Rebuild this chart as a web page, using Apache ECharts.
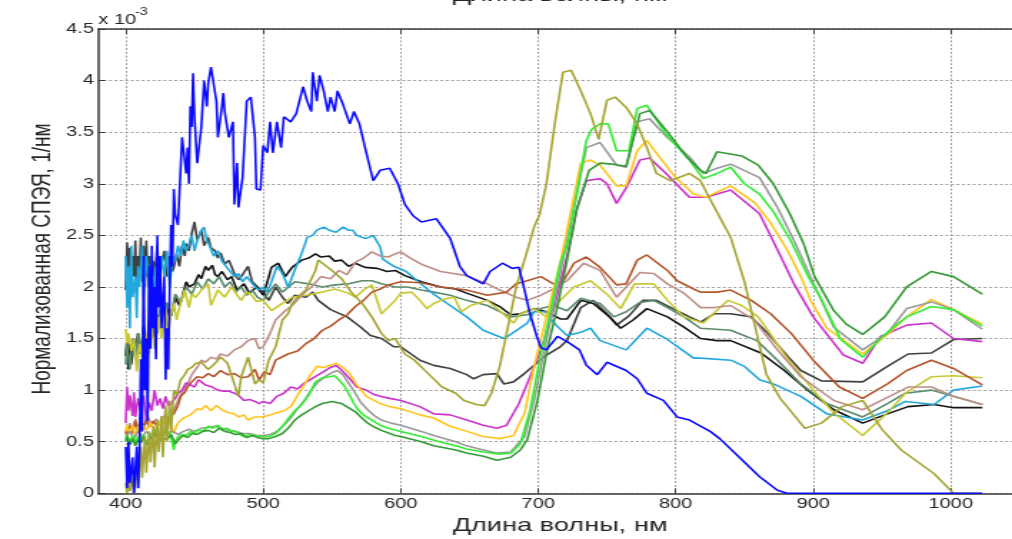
<!DOCTYPE html>
<html><head><meta charset="utf-8">
<script src="https://cdn.jsdelivr.net/npm/echarts@6/dist/echarts.min.js"></script>
<style>
html,body{margin:0;padding:0;background:#fff;overflow:hidden;width:1012px;height:539px}
#wrap{width:1012px;height:539px;overflow:hidden;position:relative;background:#fff}
#chart{width:708px;height:539px;transform:scaleX(1.4294);transform-origin:0 0;position:absolute;left:0;top:0}
</style></head><body><div id="wrap"><div id="chart"></div></div>
<script>
// ---- data (values in units of 1e-3 1/nm) ----
const xTicks = [400, 500, 600, 700, 800, 900, 1000];
const xTitle = 'Длина волны, нм';
const yTitle = 'Нормализованная СПЭЯ, 1/нм';

const blue = [[400,0.45],[401,0.05],[402,0.5],[403,0.1],[405,0.35],[406,0],[408,0.45],[409,0.05],[410,0.4],[411,1.3],[412,0.6],[413,2.3],[414,1.0],[415,1.5],[416,0.7],[417,2.2],[418,1.4],[419,2.4],[420,1.6],[421,2.0],[422,1.3],[423,2.5],[424,1.8],[425,2.3],[426,1.6],[428,2.1],[429,1.1],[430,1.6],[431,1.2],[432,2.0],[433,2.6],[434,2.2],[435,2.95],[436,2.7],[438,2.6],[441,3.45],[444,3.1],[445,3.35],[446,3.0],[447,3.75],[448,3.55],[449,4.07],[450,3.65],[452,3.2],[455,3.55],[457,4.0],[459,3.75],[460,3.97],[462,4.13],[466,3.8],[467,3.45],[470,3.75],[471,3.88],[472,3.7],[475,3.45],[478,3.6],[479,2.8],[481,3.2],[482,2.77],[485,3.06],[488,3.8],[491,3.84],[494,3.45],[495,2.95],[498,2.94],[500,3.37],[503,3.3],[505,3.6],[507,3.3],[510,3.6],[513,3.35],[515,3.65],[520,3.6],[524,3.68],[529,3.94],[532,3.8],[535,3.7],[536,4.08],[539,3.8],[541,4.05],[544,3.9],[547,3.7],[549,3.84],[552,3.7],[554,3.9],[558,3.77],[563,3.58],[566,3.7],[570,3.58],[575,3.3],[580,3.03],[585,3.13],[592,3.15],[598,3.0],[603,2.8],[609,2.69],[615,2.63],[626,2.66],[636,2.47],[643,2.2],[648,2.11],[660,2.03],[665,2.15],[674,2.23],[681,2.18],[686,2.19],[689,2.03],[694,1.74],[699,1.52],[702,1.41],[706,1.39],[714,1.52],[721,1.47],[730,1.39],[735,1.24],[743,1.15],[750,1.27],[764,1.19],[772,1.11],[779,0.97],[791,0.9],[801,0.74],[810,0.71],[825,0.6],[832,0.53],[847,0.34],[861,0.16],[874,0.03],[881,0],[1023,0]];

const cyan = [[400,2.3],[401,1.8],[402,2.2],[403,1.6],[404,2.4],[405,1.9],[407,2.1],[408,1.7],[409,2.2],[410,2.0],[412,2.4],[413,1.9],[415,2.3],[417,2.0],[419,2.3],[420,1.8],[422,2.2],[424,2.0],[426,2.3],[428,2.1],[430,2.35],[432,2.0],[434,2.3],[436,2.25],[438,2.4],[440,2.3],[442,2.45],[444,2.35],[446,2.42],[448,2.5],[450,2.35],[452,2.45],[455,2.55],[457,2.58],[459,2.45],[461,2.4],[464,2.3],[467,2.35],[470,2.25],[473,2.2],[476,2.15],[479,2.1],[482,2.13],[485,2.05],[488,2.1],[491,2.05],[494,2.0],[497,1.97],[500,2.0],[503,1.95],[506,2.05],[510,2.2],[513,2.15],[515,2.1],[518,2.0],[520,2.06],[524,2.2],[527,2.29],[530,2.4],[532,2.48],[536,2.5],[539,2.55],[544,2.58],[548,2.55],[553,2.53],[558,2.58],[562,2.55],[565,2.55],[568,2.5],[572,2.48],[575,2.47],[580,2.5],[585,2.39],[587,2.27],[595,2.2],[604,2.15],[612,2.06],[624,1.93],[636,1.82],[648,1.71],[660,1.58],[675,1.5],[680,1.54],[692,1.65],[697,1.76],[705,1.76],[713,1.63],[721,1.53],[731,1.56],[738,1.6],[745,1.48],[764,1.39],[779,1.6],[793,1.5],[813,1.31],[818,1.31],[840,1.29],[850,1.23],[861,1.1],[871,1.06],[891,0.94],[910,0.77],[936,0.71],[954,0.8],[967,0.89],[988,0.86],[1002,1.0],[1023,1.04]];

const darkGray = [[400,1.97],[401,2.43],[402,2.1],[403,2.38],[404,1.97],[405,2.3],[406,2.1],[407,2.45],[408,1.95],[409,2.3],[410,2.15],[411,2.48],[412,2.05],[413,2.4],[414,2.0],[415,2.45],[416,2.1],[417,2.3],[418,1.97],[420,2.25],[421,2.1],[423,2.4],[424,2.05],[426,2.22],[428,2.35],[430,2.1],[432,2.3],[434,2.15],[435,2.19],[437,2.32],[439,2.2],[441,2.4],[443,2.3],[444,2.42],[446,2.35],[448,2.52],[450,2.63],[452,2.45],[455,2.55],[457,2.4],[460,2.48],[462,2.38],[465,2.35],[467,2.28],[469,2.33],[472,2.22],[475,2.26],[479,2.13],[482,2.07],[484,2.1],[487,2.16],[489,2.2],[492,2.05],[496,2.0],[500,1.95],[504,1.87],[509,2.0],[514,1.9],[518,1.84],[523,1.92],[531,1.9],[536,1.95],[540,1.87],[549,1.78],[561,1.71],[571,1.61],[578,1.53],[586,1.5],[595,1.42],[600,1.42],[614,1.29],[624,1.24],[636,1.21],[648,1.15],[653,1.11],[660,1.15],[670,1.16],[675,1.06],[682,1.08],[690,1.16],[697,1.24],[706,1.34],[716,1.42],[721,1.48],[731,1.8],[740,1.87],[750,1.74],[757,1.63],[766,1.72],[776,1.87],[786,1.87],[798,1.79],[810,1.71],[818,1.66],[828,1.74],[840,1.74],[855,1.71],[867,1.55],[882,1.32],[891,1.19],[906,1.09],[936,1.08],[954,1.23],[969,1.35],[986,1.36],[1002,1.49],[1023,1.5]];

const black = [[400,1.33],[401,1.5],[402,1.2],[403,1.45],[404,1.25],[406,1.5],[407,1.39],[409,1.55],[410,1.35],[412,1.48],[413,1.62],[415,1.45],[417,1.55],[418,1.7],[420,1.5],[422,1.75],[424,1.65],[426,1.8],[428,1.6],[431,1.81],[433,1.72],[436,1.9],[439,1.82],[441,1.9],[444,2.05],[446,2.0],[450,2.03],[453,2.12],[455,2.08],[458,2.2],[460,2.16],[463,2.21],[465,2.12],[467,2.1],[470,2.15],[474,2.07],[477,2.1],[481,1.97],[486,2.03],[490,1.94],[495,2.0],[500,1.92],[503,2.05],[506,2.19],[511,2.23],[516,2.1],[521,2.19],[528,2.26],[533,2.28],[538,2.32],[542,2.29],[548,2.3],[552,2.25],[557,2.26],[562,2.2],[567,2.23],[574,2.19],[583,2.18],[590,2.15],[596,2.16],[603,2.11],[615,2.05],[629,2.0],[640,1.98],[648,1.94],[663,1.87],[672,1.81],[680,1.73],[687,1.74],[697,1.79],[706,1.76],[716,1.69],[721,1.69],[731,1.87],[740,1.84],[752,1.71],[760,1.6],[769,1.68],[779,1.79],[794,1.71],[806,1.61],[818,1.5],[830,1.48],[840,1.48],[862,1.36],[879,1.19],[896,1.0],[915,0.81],[936,0.68],[954,0.77],[969,0.84],[988,0.86],[1002,0.83],[1023,0.83]];

const grayGreen = [[400,1.25],[401,1.45],[403,1.2],[405,1.5],[407,1.3],[409,1.55],[411,1.35],[413,1.6],[415,1.4],[417,1.68],[419,1.5],[421,1.72],[423,1.55],[425,1.8],[427,1.65],[430,1.85],[433,1.72],[436,1.93],[440,1.85],[444,2.0],[448,1.93],[452,2.05],[456,1.98],[460,2.08],[464,2.03],[468,2.1],[472,2.0],[476,2.05],[480,1.95],[484,2.0],[488,1.92],[492,1.97],[496,1.9],[500,1.87],[504,1.95],[509,2.03],[514,1.95],[523,2.05],[533,2.03],[543,2.0],[552,2.02],[562,2.03],[572,2.06],[579,2.06],[586,2.03],[596,2.0],[605,2.0],[615,1.97],[624,1.95],[636,1.92],[648,1.87],[663,1.82],[672,1.76],[680,1.71],[692,1.73],[702,1.79],[711,1.82],[721,1.77],[731,1.89],[745,1.84],[755,1.71],[764,1.76],[774,1.85],[784,1.87],[794,1.8],[806,1.71],[818,1.6],[840,1.58],[859,1.48],[874,1.29],[891,1.06],[910,0.87],[936,0.74],[954,0.87],[967,0.97],[986,1.0],[1002,0.94],[1023,0.86]];

const olive = [[400,0.1],[401,0],[402,0.3],[403,0.02],[405,0.15],[406,0],[408,0.3],[409,0.05],[411,0.45],[412,0.15],[414,0.55],[415,0.2],[417,0.6],[418,0.3],[420,0.65],[421,0.25],[423,0.7],[424,0.4],[426,0.75],[427,0.35],[429,0.85],[430,0.5],[432,0.9],[433,0.6],[435,1.0],[437,0.95],[440,1.1],[443,1.15],[445,1.2],[448,1.22],[451,1.26],[455,1.27],[460,1.2],[465,1.26],[469,1.32],[474,1.26],[479,1.06],[482,0.94],[484,1.13],[489,1.32],[494,1.06],[497,1.1],[500,1.07],[504,1.29],[509,1.42],[514,1.68],[518,1.74],[521,1.84],[525,1.9],[531,1.97],[538,2.16],[540,2.26],[545,2.21],[550,2.16],[557,2.08],[564,1.95],[572,1.84],[579,1.71],[586,1.55],[591,1.48],[596,1.5],[603,1.35],[610,1.29],[620,1.16],[630,1.03],[640,0.97],[646,0.9],[655,0.86],[661,0.85],[666,0.97],[672,1.23],[677,1.55],[684,2.0],[692,2.35],[697,2.58],[701,2.7],[706,3.0],[712,3.58],[718,4.08],[724,4.1],[731,3.9],[738,3.68],[744,3.43],[750,3.81],[756,3.84],[764,3.74],[772,3.58],[779,3.35],[786,3.1],[796,3.03],[810,3.1],[818,3.03],[827,2.8],[840,2.48],[850,2.05],[858,1.6],[866,1.15],[876,0.92],[894,0.63],[906,0.68],[921,0.84],[936,0.9],[950,0.62],[964,0.42],[988,0.19],[1002,0],[1023,0]];

const yellow = [[400,1.59],[401,1.45],[402,1.55],[404,1.38],[406,1.5],[408,1.18],[410,1.45],[413,1.24],[415,1.55],[417,1.35],[419,1.6],[421,1.4],[424,1.71],[426,1.5],[429,1.78],[431,1.55],[433,1.75],[435,1.84],[437,1.68],[440,1.85],[443,1.97],[446,1.8],[448,1.93],[451,1.9],[455,1.97],[460,2.03],[462,1.82],[467,1.97],[472,1.9],[477,2.0],[481,1.92],[484,1.87],[488,1.95],[491,1.93],[495,1.86],[500,1.87],[506,1.77],[514,1.84],[521,1.9],[531,1.92],[543,1.95],[552,1.98],[562,1.94],[567,1.9],[574,1.98],[579,2.02],[586,1.74],[596,1.87],[600,1.94],[608,1.95],[614,1.87],[619,1.79],[624,1.84],[631,1.88],[639,1.9],[644,1.76],[651,1.82],[663,1.87],[672,1.77],[682,1.65],[687,1.74],[697,1.79],[706,1.71],[716,1.87],[726,2.0],[738,2.06],[750,1.93],[760,1.79],[770,2.03],[784,2.03],[794,1.87],[806,1.71],[820,1.65],[838,1.87],[848,1.82],[860,1.71],[867,1.58],[880,1.33],[900,1.0],[915,0.78],[936,0.56],[954,0.78],[967,0.97],[986,1.13],[1002,1.14],[1023,1.12]];

const brown = [[400,0.6],[401,0.55],[403,0.65],[405,0.58],[407,0.7],[409,0.6],[411,0.68],[413,0.62],[415,0.72],[417,0.64],[420,0.7],[423,0.65],[426,0.71],[429,0.68],[432,0.75],[435,0.77],[438,0.85],[440,0.94],[443,0.98],[445,1.03],[448,1.08],[452,1.13],[456,1.12],[460,1.16],[464,1.13],[469,1.19],[474,1.15],[479,1.16],[484,1.12],[489,1.13],[494,1.2],[497,1.1],[501,1.18],[505,1.15],[509,1.29],[518,1.35],[525,1.38],[531,1.45],[537,1.5],[543,1.58],[549,1.62],[555,1.68],[561,1.73],[567,1.81],[573,1.87],[579,1.95],[585,1.98],[591,2.02],[600,2.05],[615,2.04],[629,2.0],[648,1.97],[663,1.92],[677,1.95],[684,2.03],[692,2.06],[702,2.1],[711,2.03],[718,2.05],[726,2.23],[735,2.29],[745,2.19],[757,2.02],[764,2.03],[772,2.26],[779,2.31],[794,2.16],[801,2.06],[813,1.98],[818,1.95],[830,1.95],[840,1.97],[855,1.87],[869,1.74],[884,1.55],[900,1.29],[919,1.03],[936,0.92],[954,1.06],[968,1.19],[986,1.29],[1002,1.21],[1023,1.05]];

const rosy = [[400,0.62],[401,0.58],[403,0.68],[405,0.6],[407,0.72],[409,0.62],[411,0.7],[413,0.64],[416,0.74],[419,0.66],[422,0.72],[425,0.68],[428,0.75],[431,0.73],[435,0.81],[438,0.9],[441,0.98],[445,1.06],[448,1.15],[452,1.22],[455,1.29],[458,1.27],[462,1.32],[466,1.3],[469,1.35],[474,1.33],[479,1.39],[484,1.42],[489,1.48],[494,1.5],[497,1.4],[500,1.42],[505,1.55],[509,1.68],[516,1.77],[521,1.82],[528,1.92],[535,2.0],[542,2.1],[549,2.08],[555,2.16],[561,2.12],[567,2.24],[573,2.28],[579,2.34],[585,2.3],[591,2.29],[596,2.32],[600,2.34],[607,2.28],[615,2.22],[629,2.15],[648,2.11],[663,2.03],[672,1.97],[684,1.9],[692,1.87],[702,1.92],[711,1.98],[721,2.06],[733,2.23],[745,2.16],[757,1.9],[764,2.0],[774,2.14],[784,2.13],[794,2.03],[806,1.94],[818,1.8],[828,1.8],[840,1.82],[857,1.68],[874,1.39],[891,1.13],[915,0.9],[936,0.81],[954,0.93],[969,1.03],[986,1.03],[1002,0.94],[1023,0.86]];

const magenta = [[400,0.68],[401,1.03],[402,0.8],[403,0.95],[405,0.75],[406,0.98],[407,0.74],[409,0.92],[411,0.8],[413,0.95],[415,0.71],[417,0.88],[419,0.8],[421,1.0],[423,0.85],[425,0.92],[427,0.82],[429,0.94],[431,0.85],[433,0.87],[436,0.92],[438,0.97],[441,1.0],[444,1.07],[447,1.05],[450,1.03],[453,1.1],[455,1.08],[458,1.05],[460,1.06],[463,1.03],[467,1.0],[471,0.99],[475,0.99],[479,0.97],[482,0.95],[486,0.9],[490,0.91],[494,0.89],[497,0.87],[500,0.89],[505,0.87],[510,0.94],[515,0.97],[520,1.03],[525,1.01],[529,1.06],[534,1.1],[539,1.14],[544,1.18],[549,1.22],[553,1.24],[558,1.18],[563,1.11],[568,1.03],[575,1.0],[580,0.96],[585,0.94],[592,0.92],[600,0.9],[614,0.84],[624,0.77],[636,0.76],[648,0.71],[660,0.66],[670,0.63],[677,0.66],[686,0.87],[695,1.16],[702,1.39],[711,1.77],[721,2.3],[728,2.75],[735,3.03],[745,3.05],[750,3.0],[757,2.81],[764,2.96],[774,3.23],[781,3.25],[793,3.1],[810,2.87],[822,2.87],[840,2.94],[861,2.71],[874,2.36],[886,2.03],[900,1.71],[922,1.34],[936,1.26],[949,1.52],[968,1.63],[986,1.65],[1002,1.5],[1023,1.47]];

const orange = [[400,0.6],[401,0.66],[403,0.58],[405,0.66],[407,0.55],[409,0.65],[411,0.6],[413,0.66],[415,0.61],[418,0.68],[421,0.62],[424,0.7],[426,0.65],[429,0.72],[431,0.74],[433,0.65],[435,0.58],[437,0.66],[438,0.68],[441,0.72],[444,0.74],[447,0.76],[449,0.78],[452,0.82],[455,0.81],[458,0.85],[460,0.85],[462,0.8],[464,0.81],[466,0.85],[468,0.84],[471,0.8],[475,0.78],[479,0.77],[482,0.74],[486,0.76],[489,0.71],[494,0.74],[499,0.74],[505,0.76],[510,0.78],[515,0.8],[520,0.84],[525,0.95],[529,1.03],[534,1.14],[539,1.23],[544,1.22],[549,1.24],[553,1.26],[558,1.22],[563,1.16],[568,1.05],[575,0.94],[585,0.87],[592,0.84],[600,0.82],[614,0.76],[624,0.73],[636,0.65],[648,0.6],[660,0.55],[672,0.53],[682,0.56],[690,0.77],[697,1.23],[706,1.71],[716,2.23],[724,2.75],[731,3.2],[738,3.23],[745,3.18],[757,2.98],[764,2.98],[772,3.32],[779,3.42],[788,3.26],[800,3.06],[813,2.9],[822,2.87],[840,2.98],[858,2.81],[869,2.62],[881,2.36],[891,2.1],[898,1.87],[910,1.6],[936,1.35],[954,1.54],[968,1.71],[986,1.88],[1002,1.78],[1023,1.64]];

const green = [[400,0.52],[401,0.56],[403,0.5],[405,0.56],[407,0.49],[409,0.55],[411,0.52],[413,0.57],[415,0.49],[418,0.55],[421,0.61],[423,0.55],[426,0.52],[428,0.58],[430,0.56],[432,0.6],[435,0.42],[436,0.5],[438,0.55],[441,0.57],[444,0.56],[447,0.6],[450,0.58],[453,0.62],[456,0.6],[460,0.65],[463,0.63],[467,0.66],[470,0.62],[474,0.63],[477,0.6],[480,0.6],[483,0.57],[486,0.55],[490,0.57],[494,0.56],[499,0.55],[504,0.55],[509,0.58],[514,0.65],[518,0.72],[523,0.8],[528,0.86],[533,0.95],[538,1.08],[543,1.12],[548,1.13],[552,1.14],[555,1.1],[559,1.04],[562,0.97],[566,0.87],[569,0.81],[574,0.75],[579,0.71],[585,0.66],[591,0.63],[600,0.6],[615,0.55],[628,0.5],[640,0.46],[648,0.43],[660,0.4],[672,0.38],[680,0.39],[687,0.48],[694,0.8],[701,1.29],[709,1.77],[716,2.23],[721,2.4],[728,2.9],[735,3.42],[739,3.53],[745,3.58],[751,3.58],[757,3.32],[766,3.32],[772,3.73],[779,3.76],[793,3.48],[810,3.23],[820,3.05],[830,3.1],[840,3.16],[850,3.0],[861,2.9],[871,2.73],[884,2.44],[896,2.11],[906,1.88],[920,1.49],[936,1.32],[952,1.54],[968,1.71],[986,1.81],[1002,1.78],[1023,1.62]];

const gray = [[400,0.55],[403,0.6],[406,0.53],[409,0.6],[412,0.55],[415,0.6],[418,0.56],[421,0.62],[424,0.56],[427,0.6],[430,0.58],[434,0.6],[438,0.57],[442,0.6],[446,0.62],[450,0.6],[455,0.63],[460,0.64],[465,0.65],[470,0.63],[475,0.61],[480,0.6],[485,0.58],[490,0.58],[495,0.56],[500,0.56],[505,0.57],[510,0.6],[515,0.66],[520,0.73],[525,0.82],[530,0.9],[535,1.0],[540,1.08],[545,1.13],[550,1.17],[554,1.19],[558,1.15],[562,1.07],[567,0.97],[571,0.88],[576,0.81],[581,0.75],[586,0.71],[593,0.68],[600,0.66],[615,0.6],[624,0.56],[640,0.5],[648,0.46],[660,0.42],[670,0.39],[680,0.4],[690,0.55],[697,0.9],[704,1.36],[711,1.81],[718,2.26],[725,2.7],[735,3.35],[745,3.4],[757,3.18],[764,3.16],[772,3.6],[781,3.63],[793,3.46],[810,3.26],[820,3.1],[830,3.15],[840,3.19],[861,3.06],[874,2.77],[886,2.45],[898,2.1],[915,1.61],[936,1.39],[954,1.55],[968,1.79],[986,1.855],[1002,1.78],[1023,1.59]];

const darkGreen = [[400,0.5],[401,0.55],[403,0.47],[405,0.53],[407,0.46],[409,0.52],[411,0.49],[413,0.55],[415,0.47],[418,0.53],[421,0.58],[424,0.5],[427,0.54],[430,0.52],[433,0.57],[436,0.48],[439,0.53],[442,0.56],[445,0.54],[448,0.58],[452,0.57],[456,0.6],[460,0.61],[464,0.59],[468,0.63],[472,0.6],[476,0.59],[480,0.57],[484,0.58],[488,0.54],[492,0.56],[496,0.54],[499,0.53],[504,0.53],[509,0.55],[514,0.58],[518,0.63],[523,0.71],[528,0.76],[533,0.8],[538,0.84],[543,0.87],[550,0.89],[557,0.87],[562,0.83],[567,0.79],[571,0.74],[576,0.68],[581,0.64],[586,0.61],[596,0.56],[600,0.55],[615,0.5],[624,0.46],[640,0.42],[648,0.39],[660,0.36],[670,0.32],[680,0.35],[687,0.42],[692,0.52],[699.5,0.9],[706.5,1.39],[714,1.81],[721,2.26],[728,2.75],[737,3.13],[745,3.2],[754,3.19],[764,3.17],[774,3.68],[781,3.71],[793,3.52],[808,3.26],[818,3.13],[822,3.1],[830,3.31],[848,3.27],[860,3.18],[871,3.0],[883,2.71],[893,2.42],[901,2.1],[915,1.77],[924,1.64],[936,1.54],[952,1.71],[968,2.0],[986,2.15],[1002,2.1],[1023,1.93]];

// ---- chart ----
const seriesList = [
  ['darkGray', darkGray, '#404040'],
  ['black', black, '#141414'],
  ['grayGreen', grayGreen, '#5b8b6c'],
  ['cyan', cyan, '#22a8dc'],
  ['yellow', yellow, '#c8c832'],
  ['rosy', rosy, '#c08f88'],
  ['brown', brown, '#b5552c'],
  ['magenta', magenta, '#cc33cc'],
  ['orange', orange, '#ffc51f'],
  ['gray', gray, '#9a9a9a'],
  ['green', green, '#33ee33'],
  ['darkGreen', darkGreen, '#359a35'],
  ['olive', olive, '#a5a534'],
  ['blue', blue, '#0a0aff']
];

const chart = echarts.init(document.getElementById('chart'));
const axisColor = '#3a3a3a';
const textColor = '#262626';
const font = 'Liberation Sans, Arial, sans-serif';
const gridLine = {show: true, lineStyle: {color: '#9c9c9c', width: 1, type: [2, 1.8]}};

chart.setOption({
  animation: false,
  backgroundColor: '#fff',
  grid: {left: 68.7, right: 0, top: 29, bottom: 45.7, containLabel: false},
  xAxis: [{
    type: 'value', min: 380, max: 1044.6, position: 'bottom',
    axisLine: {show: true, onZero: false, lineStyle: {color: axisColor, width: 1.5}},
    axisTick: {show: true, inside: true, length: 5, customValues: xTicks, lineStyle: {color: axisColor, width: 1}},
    axisLabel: {show: true, customValues: xTicks, margin: 4, fontSize: 14, color: textColor, fontFamily: font,
      formatter: v => String(v)},
    splitLine: gridLine
  }, {
    type: 'value', min: 380, max: 1044.6, position: 'top',
    axisLine: {show: true, onZero: false, lineStyle: {color: axisColor, width: 1.5}},
    axisTick: {show: true, inside: true, length: 5, customValues: xTicks, lineStyle: {color: axisColor, width: 1}},
    axisLabel: {show: false},
    splitLine: {show: false}
  }],
  yAxis: {
    type: 'value', min: 0, max: 4.5, interval: 0.5,
    axisLine: {show: true, onZero: false, lineStyle: {color: axisColor, width: 1.5}},
    axisTick: {show: true, inside: true, length: 5, lineStyle: {color: axisColor, width: 1}},
    axisLabel: {margin: 3, fontSize: 14, color: textColor, fontFamily: font, formatter: v => String(v)},
    splitLine: gridLine
  },
  series: seriesList.map(([name, data, color]) => ({
    name, type: 'line', data, xAxisIndex: 0, showSymbol: false, symbol: 'none',
    lineStyle: {color, width: 1.6}, itemStyle: {color}, clip: true, z: 3
  })),
  graphic: [
    {type: 'text', x: 391.8, y: -4, style: {text: xTitle, fontSize: 19, fontFamily: font, fill: textColor, align: 'center', verticalAlign: 'middle'}},
    {type: 'text', x: 391.8, y: 526, style: {text: xTitle, fontSize: 19, fontFamily: font, fill: textColor, align: 'center', verticalAlign: 'middle'}},
    {type: 'text', x: 29.4, y: 259, rotation: Math.PI / 2, style: {text: yTitle, fontSize: 19, fontFamily: font, fill: textColor, align: 'center', verticalAlign: 'middle'}},
    {type: 'text', x: 68.8, y: 20, style: {text: 'x 10', fontSize: 14, fontFamily: font, fill: textColor, align: 'left', verticalAlign: 'middle'}},
    {type: 'text', x: 94.5, y: 12.5, style: {text: '-3', fontSize: 10, fontFamily: font, fill: textColor, align: 'left', verticalAlign: 'middle'}}
  ]
});
</script>
</body></html>
